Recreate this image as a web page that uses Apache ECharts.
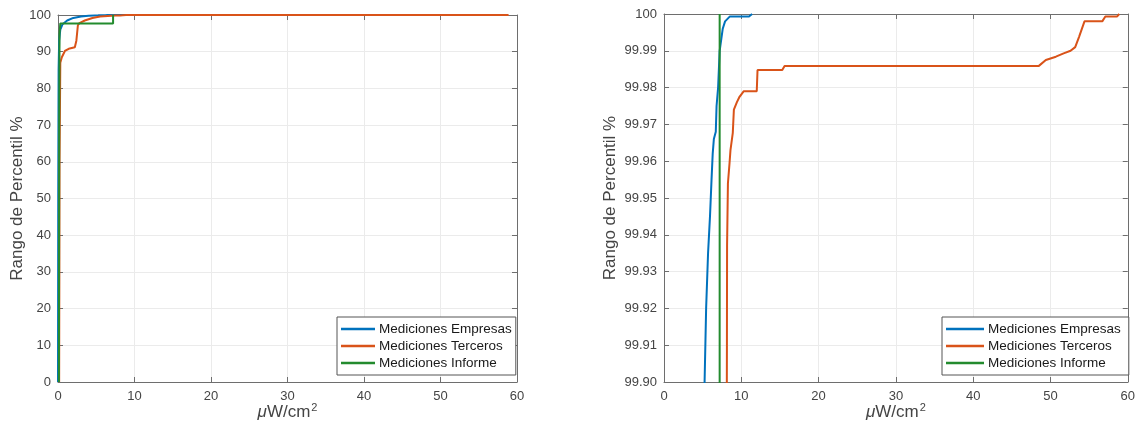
<!DOCTYPE html>
<html>
<head>
<meta charset="utf-8">
<script src="https://cdn.jsdelivr.net/npm/echarts@6/dist/echarts.min.js"></script>
<style>
  html, body { margin: 0; padding: 0; background: #ffffff; }
  #chart { width: 1138px; height: 433px; }
</style>
</head>
<body>
<div id="chart"></div>
<script>
// Cumulative percentile rank of field measurements (µW/cm²)
const seriesNames = ['Mediciones Empresas', 'Mediciones Terceros', 'Mediciones Informe'];
const seriesColors = ['#0072BD', '#D95319', '#238B2E'];

// Mediciones Empresas
const empresasX = [0, 0.03, 0.08, 0.15, 0.3, 0.6, 1.2, 2.0, 3.0, 4.0, 4.8, 5.25, 5.45, 5.7, 5.95, 6.15, 6.3, 6.45, 6.7, 6.8, 7.0, 7.2, 7.6, 7.9, 8.5, 11.0, 11.4];
const empresasY = [0, 50, 85, 93, 96, 97.5, 98.5, 99.2, 99.6, 99.8, 99.88, 99.90, 99.92, 99.935, 99.945, 99.955, 99.962, 99.966, 99.968, 99.975, 99.98, 99.99, 99.996, 99.998, 99.9993, 99.9993, 100];

// Mediciones Terceros
const tercerosX = [0.15, 0.2, 0.3, 0.5, 0.9, 1.4, 2.2, 2.4, 2.6, 2.8, 3.5, 4.5, 5.5, 7.5, 8.12, 8.14, 8.16, 8.27, 8.48, 8.6, 8.9, 9.04, 9.42, 9.77, 10.3, 12.0, 12.1, 15.3, 15.6, 48.5, 49.4, 50.7, 51.7, 52.6, 53.2, 53.7, 54.4, 56.7, 57.1, 58.6, 58.9];
const tercerosY = [0, 60, 87, 88.5, 90.2, 90.8, 91.2, 93, 97.2, 97.8, 98.5, 99.2, 99.6, 99.88, 99.89, 99.91, 99.937, 99.954, 99.9595, 99.963, 99.9677, 99.974, 99.976, 99.9775, 99.979, 99.979, 99.9848, 99.9848, 99.9859, 99.9859, 99.9875, 99.9884, 99.9893, 99.990, 99.991, 99.9938, 99.998, 99.998, 99.9993, 99.9993, 100];

// Mediciones Informe
const informeX = [0.12, 0.16, 0.2, 0.3, 7.2, 7.2];
const informeY = [0, 70, 95, 97.7, 97.7, 100];

// Axis ranges and ticks
const xMin = 0, xMax = 60, xStep = 10;
const leftYMin = 0, leftYMax = 100, leftYStep = 10;
const rightYMin = 99.9, rightYMax = 100, rightYStep = 0.01;

const xLabel = '{mu|μ}{t|W/cm}{sup|2}';
const yLabel = 'Rango de Percentil %';

const FONT = '"Liberation Sans", Arial, Helvetica, sans-serif';
const AXIS_COLOR = '#6e6e6e';
const LABEL_COLOR = '#444444';
const GRID_COLOR = '#ebebeb';

const pairs = (xs, ys) => xs.map((x, i) => [x, ys[i]]);
const dataSets = [pairs(empresasX, empresasY), pairs(tercerosX, tercerosY), pairs(informeX, informeY)];

const nameRich = {
  mu: { fontFamily: FONT, fontSize: 17, fontStyle: 'italic', color: LABEL_COLOR },
  t: { fontFamily: FONT, fontSize: 17, color: LABEL_COLOR },
  sup: { fontFamily: FONT, fontSize: 11, color: LABEL_COLOR, padding: [0, 0, 10, 1] }
};

function xAxes(gridIndex) {
  const common = {
    type: 'value', gridIndex, min: xMin, max: xMax, interval: xStep,
    axisLine: { show: true, onZero: false, lineStyle: { color: AXIS_COLOR, width: 1 } },
    axisTick: { show: true, inside: true, length: 5, lineStyle: { color: AXIS_COLOR } }
  };
  return [
    Object.assign({}, common, {
      position: 'bottom',
      name: xLabel, nameLocation: 'middle', nameGap: 20, nameMoveOverlap: false,
      nameTextStyle: { rich: nameRich },
      axisLabel: { color: LABEL_COLOR, fontFamily: FONT, fontSize: 13, margin: 8 },
      splitLine: { show: true, lineStyle: { color: GRID_COLOR, width: 1 } }
    }),
    Object.assign({}, common, {
      position: 'top',
      axisLabel: { show: false },
      splitLine: { show: false }
    })
  ];
}

function yAxes(gridIndex, min, max, step, fmt) {
  const common = {
    type: 'value', gridIndex, min, max, interval: step,
    axisLine: { show: true, onZero: false, lineStyle: { color: AXIS_COLOR, width: 1 } },
    axisTick: { show: true, inside: true, length: 5, lineStyle: { color: AXIS_COLOR } }
  };
  return [
    Object.assign({}, common, {
      position: 'left',
      name: yLabel, nameLocation: 'middle', nameGap: fmt ? 45 : 32,
      nameTextStyle: { fontFamily: FONT, fontSize: 17, color: LABEL_COLOR },
      axisLabel: { color: LABEL_COLOR, fontFamily: FONT, fontSize: 13, margin: 7, formatter: fmt },
      splitLine: { show: true, lineStyle: { color: GRID_COLOR, width: 1 } }
    }),
    Object.assign({}, common, {
      position: 'right',
      axisLabel: { show: false },
      splitLine: { show: false }
    })
  ];
}

const fmtRight = (v) => Math.abs(v - 100) < 1e-9 ? '100' : v.toFixed(2);

const series = [];
[0, 1].forEach((g) => {
  dataSets.forEach((d, i) => {
    series.push({
      name: seriesNames[i], type: 'line', xAxisIndex: g * 2, yAxisIndex: g * 2,
      data: d, showSymbol: false, symbol: 'none', clip: true, animation: false,
      lineStyle: { color: seriesColors[i], width: 2 }, itemStyle: { color: seriesColors[i] },
      z: 3 + i
    });
  });
});

function legendAt(left, sampleWidth, padRight) {
  return {
    orient: 'vertical', left, top: 317,
    data: seriesNames, icon: 'rect', itemWidth: sampleWidth, itemHeight: 2.5, itemGap: 3,
    padding: [5, padRight, 5, 4], backgroundColor: '#ffffff',
    borderColor: '#555555', borderWidth: 1, borderRadius: 0,
    textStyle: { fontFamily: FONT, fontSize: 13.5, color: '#1a1a1a', padding: [0, 0, 0, -1] },
    selectedMode: false
  };
}

const chart = echarts.init(document.getElementById('chart'), null, { renderer: 'canvas' });
chart.setOption({
  backgroundColor: '#ffffff',
  animation: false,
  grid: [
    { left: 58, right: 621, top: 15, bottom: 51, containLabel: false },
    { left: 664, right: 7, top: 14, bottom: 51, containLabel: false }
  ],
  xAxis: xAxes(0).concat(xAxes(1)),
  yAxis: yAxes(0, leftYMin, leftYMax, leftYStep).concat(yAxes(1, rightYMin, rightYMax, rightYStep, fmtRight)),
  legend: [legendAt(337, 34, 4), legendAt(942, 38, 8)],
  series
});
</script>
</body>
</html>
